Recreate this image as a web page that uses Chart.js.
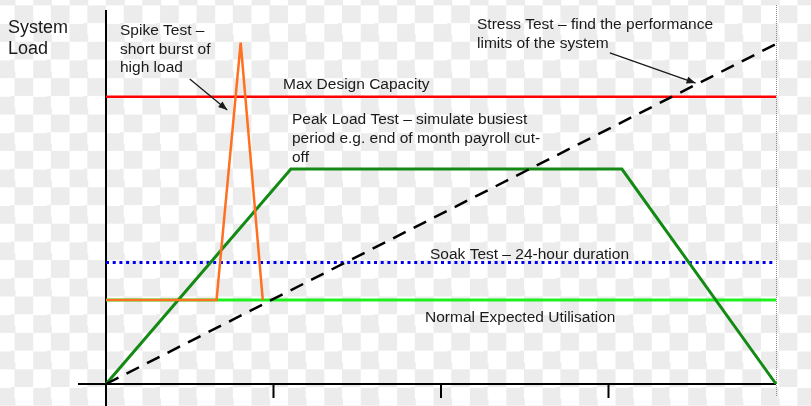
<!DOCTYPE html>
<html><head><meta charset="utf-8">
<script src="https://cdn.jsdelivr.net/npm/chart.js@4"></script>
<style>
html,body{margin:0;padding:0;}
body{width:811px;height:406px;overflow:hidden;background-color:#fff;
background-image:repeating-conic-gradient(#ececec 0 25%, #ffffff 0 50%);
background-size:36.4px 36.4px;background-position:-3.2px 5.4px;}
canvas{display:block;}
</style></head><body>
<canvas id="c" width="811" height="406"></canvas>
<script>
// ---- data (time 0..100, load 0..100) ----
const xTicks = [25, 50, 75];
const fullSpanX = [0, 100];
const maxCapacityY = [84.5, 84.5];
const soakY = [35.7, 35.7];
const normalY = [24.7, 24.7];
const peakX = [0, 27.6, 77, 100];
const peakY = [0, 63.2, 63.2, 0];
const stressX = [0, 100];
const stressY = [0, 100];
const spikeX = [0, 16.5, 20.1, 23.4];
const spikeY = [24.7, 24.7, 100.4, 24.7];

const yTitle = ['System', 'Load'];
const spikeLabel = ['Spike Test \u2013', 'short burst of', 'high load'];
const maxLabel = ['Max Design Capacity'];
const peakLabel = ['Peak Load Test \u2013 simulate busiest', 'period e.g. end of month payroll cut-', 'off'];
const stressLabel = ['Stress Test \u2013 find the performance', 'limits of the system'];
const soakLabel = ['Soak Test \u2013 24-hour duration'];
const normalLabel = ['Normal Expected Utilisation'];

const pts = (xs, ys) => xs.map((v, i) => ({x: v, y: ys[i]}));

const FONT = '"Liberation Sans", Arial, sans-serif';

const annot = {
  id: 'annot',
  beforeDatasetsDraw(chart) {
    const {ctx, scales: {x, y}} = chart;
    const x0 = x.getPixelForValue(0), x1 = x.getPixelForValue(100), y0 = y.getPixelForValue(0);
    ctx.save();
    ctx.strokeStyle = '#8a8a8a'; ctx.lineWidth = 1; ctx.setLineDash([1, 1]);
    ctx.beginPath(); ctx.moveTo(Math.round(x1) + 0.5, 5); ctx.lineTo(Math.round(x1) + 0.5, 396); ctx.stroke();
    ctx.setLineDash([]);
    ctx.strokeStyle = '#000'; ctx.lineWidth = 2;
    ctx.beginPath();
    ctx.moveTo(x0, 10); ctx.lineTo(x0, 406);
    ctx.moveTo(78, y0); ctx.lineTo(x1, y0);
    xTicks.forEach(t => { const p = x.getPixelForValue(t); ctx.moveTo(p, y0); ctx.lineTo(p, y0 + 14); });
    ctx.stroke();
    ctx.restore();
  },
  afterDatasetsDraw(chart) {
    const {ctx, scales: {x, y}} = chart;
    ctx.save();
    ctx.fillStyle = '#1a1a1a';
    ctx.textBaseline = 'middle';
    ctx.textAlign = 'left';
    const block = (lines, px, py, lh, size) => {
      ctx.font = size + 'px ' + FONT;
      lines.forEach((l, i) => ctx.fillText(l, px, py + i * lh));
    };
    block(yTitle, 8, 28, 21.5, 18);
    block(spikeLabel, 120, 31, 18.5, 15.5);
    block(maxLabel, 283, 85, 19, 15.5);
    block(peakLabel, 292, 120, 18.7, 15.5);
    block(stressLabel, 477, 25, 19, 15.5);
    block(soakLabel, 430, 255, 19, 15.5);
    block(normalLabel, 425, 318, 19, 15.5);

    const arrow = (ax, ay, bx, by) => {
      const p1 = [x.getPixelForValue(ax), y.getPixelForValue(ay)];
      const p2 = [x.getPixelForValue(bx), y.getPixelForValue(by)];
      ctx.strokeStyle = '#1a1a1a'; ctx.fillStyle = '#1a1a1a'; ctx.lineWidth = 1.3;
      ctx.beginPath(); ctx.moveTo(p1[0], p1[1]); ctx.lineTo(p2[0], p2[1]); ctx.stroke();
      const a = Math.atan2(p2[1] - p1[1], p2[0] - p1[0]);
      const L = 9, W = 3.5;
      ctx.beginPath();
      ctx.moveTo(p2[0], p2[1]);
      ctx.lineTo(p2[0] - L * Math.cos(a) + W * Math.sin(a), p2[1] - L * Math.sin(a) - W * Math.cos(a));
      ctx.lineTo(p2[0] - L * Math.cos(a) - W * Math.sin(a), p2[1] - L * Math.sin(a) + W * Math.cos(a));
      ctx.closePath(); ctx.fill();
    };
    arrow(12.5, 89.7, 18.1, 80.6);
    arrow(75.2, 97.4, 88.0, 88.5);
    ctx.restore();
  }
};

new Chart(document.getElementById('c'), {
  type: 'line',
  data: {
    datasets: [
      {label: 'Spike', data: pts(spikeX, spikeY), borderColor: '#ff7020', borderWidth: 2.5, order: 1},
      {label: 'Stress', data: pts(stressX, stressY), borderColor: '#000', borderWidth: 2.5, borderDash: [14, 9], order: 2},
      {label: 'Peak', data: pts(peakX, peakY), borderColor: '#138a13', borderWidth: 3, order: 3},
      {label: 'Normal', data: pts(fullSpanX, normalY), borderColor: '#1ef01e', borderWidth: 3, order: 4},
      {label: 'Soak', data: pts(fullSpanX, soakY), borderColor: '#0000f0', borderWidth: 3, borderDash: [3, 3.7], order: 5},
      {label: 'Max', data: pts(fullSpanX, maxCapacityY), borderColor: '#ff0000', borderWidth: 2.5, order: 6}
    ]
  },
  options: {
    responsive: false,
    devicePixelRatio: 1,
    animation: false,
    events: [],
    layout: {padding: {left: 106, right: 35, top: 44, bottom: 22}},
    elements: {point: {radius: 0}, line: {tension: 0, fill: false, borderCapStyle: 'butt'}},
    datasets: {line: {clip: false}},
    plugins: {legend: {display: false}, tooltip: {enabled: false}},
    scales: {
      x: {type: 'linear', min: 0, max: 100, display: false},
      y: {type: 'linear', min: 0, max: 100, display: false}
    }
  },
  plugins: [annot]
});
</script>
</body></html>
